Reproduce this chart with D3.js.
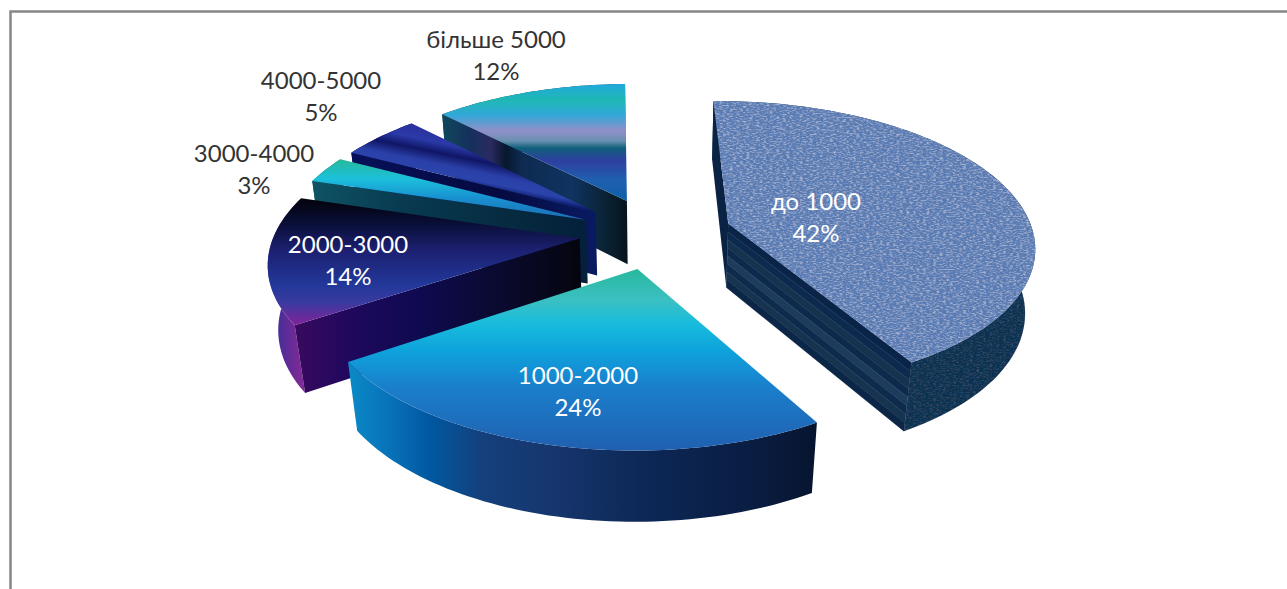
<!DOCTYPE html>
<html>
<head>
<meta charset="utf-8">
<script src="https://cdn.jsdelivr.net/npm/d3@7/dist/d3.min.js"></script>
<style>
  html, body { margin: 0; background: #fff; overflow: hidden; }
  text { font-family: Lato, "Open Sans", sans-serif; font-size: 24px; text-anchor: middle; }
</style>
</head>
<body>
<div class="pie-chart"></div>
<script>
const categories = ["до 1000", "1000-2000", "2000-3000", "3000-4000", "4000-5000", "більше 5000"];
const shares = [42, 24, 14, 3, 5, 12];

const width = 1287, height = 589;

// camera for the tilted pie: ground (u, v) with radius 1, z = 1 is the base of the solid
const cam = { x0: 655.5, y0: 233, a: 305, b: 143, s: 0.147, h: 66, k: 0.027 };
const explode = 0.25;
const firstSliceAngle = (-1.2 * Math.PI) / 180;

// where each text block sits, two lines centred on this point
const labelAt = [[816, 213], [578, 387], [348, 256], [254, 165], [321, 92], [496, 51]];
const labelColor = ["#fff", "#fff", "#fff", "#333", "#333", "#333"];

// back to front
const drawOrder = [5, 4, 3, 2, 0, 1];

const svg = d3
  .select(".pie-chart")
  .append("svg")
  .attr("width", width)
  .attr("height", height)
  .style("display", "block");

const defs = svg.append("defs");

function gradient(id, x1, y1, x2, y2, stops) {
  const g = defs
    .append("linearGradient")
    .attr("id", id)
    .attr("gradientUnits", "userSpaceOnUse")
    .attr("x1", x1)
    .attr("y1", y1)
    .attr("x2", x2)
    .attr("y2", y2);
  stops.forEach((s) => g.append("stop").attr("offset", s[0]).attr("stop-color", s[1]));
  return "url(#" + id + ")";
}

// woven cloth look for the largest slice
function cloth(id, lightOpacity, darkOpacity) {
  const f = defs
    .append("filter")
    .attr("id", id)
    .attr("x", 0)
    .attr("y", 0)
    .attr("width", 1)
    .attr("height", 1);
  f.append("feTurbulence")
    .attr("type", "fractalNoise")
    .attr("baseFrequency", "0.3 0.75")
    .attr("numOctaves", 2)
    .attr("seed", 4)
    .attr("result", "noise");
  f.append("feColorMatrix")
    .attr("in", "noise")
    .attr("type", "matrix")
    .attr("values", `0 0 0 0 1  0 0 0 0 1  0 0 0 0 1  ${3 * lightOpacity} 0 0 0 ${-1.35 * lightOpacity}`)
    .attr("result", "light");
  f.append("feColorMatrix")
    .attr("in", "noise")
    .attr("type", "matrix")
    .attr("values", `0 0 0 0 0.05  0 0 0 0 0.12  0 0 0 0 0.3  0 ${-3 * darkOpacity} 0 0 ${1.5 * darkOpacity}`)
    .attr("result", "dark");
  f.append("feComposite").attr("in", "light").attr("in2", "SourceAlpha").attr("operator", "in").attr("result", "lightIn");
  f.append("feComposite").attr("in", "dark").attr("in2", "SourceAlpha").attr("operator", "in").attr("result", "darkIn");
  const m = f.append("feMerge");
  m.append("feMergeNode").attr("in", "SourceGraphic");
  m.append("feMergeNode").attr("in", "darkIn");
  m.append("feMergeNode").attr("in", "lightIn");
}
cloth("cloth-top", 0.3, 0.3);
cloth("cloth-side", 0.03, 0.35);

// one style per slice: top face, outer wall, first radial wall, last radial wall
const faces = [
  {
    top: "#5a7db6",
    outer: "#10304f",
    start: "#0a2244",
    end: "#0c2a4e",
    topFilter: "url(#cloth-top)",
    outerFilter: "url(#cloth-side)",
    bands: ["#0a2448", "#0c2a4e", "#15334f", "#0d2a4c", "#1d3c5c", "#0e2b4e", "#163450", "#0b2647"],
  },
  {
    top: gradient("top1", 0, 267, 0, 450, [[0, "#26b89a"], [0.18, "#3bc0c2"], [0.31, "#18bcdc"], [0.46, "#0ea2dc"], [0.65, "#1a80cc"], [1, "#2060b0"]]),
    outer: gradient("outer1", 345, 0, 818, 0, [[0, "#0a8cc8"], [0.1, "#0870b8"], [0.18, "#0058a0"], [0.29, "#14407c"], [0.45, "#16356c"], [0.64, "#0c2756"], [0.88, "#0a1c40"], [1, "#06142e"]]),
    start: "#06142e",
    end: "#0a8cc8",
  },
  {
    top: gradient("top2", 0, 202, 0, 328, [[0, "#040410"], [0.18, "#0a0f3a"], [0.38, "#1c2070"], [0.66, "#22389a"], [0.8, "#3a3aa0"], [1, "#8a1f98"]]),
    outer: gradient("outer2", 265, 0, 300, 0, [[0, "#2a2f9a"], [1, "#7c2a96"]]),
    start: gradient("start2", 291, 0, 578, 0, [[0, "#3a0a5e"], [0.2, "#20085e"], [0.45, "#0e0a50"], [0.72, "#0a0a30"], [1, "#050510"]]),
    end: "#040410",
  },
  {
    top: gradient("top3", 0, 160, 0, 222, [[0, "#25b99a"], [0.3, "#1cc0dc"], [0.62, "#1890d0"], [1, "#1e6ab0"]]),
    outer: "#0f5566",
    start: gradient("start3", 306, 0, 583, 0, [[0, "#0f5566"], [0.35, "#083a50"], [0.75, "#062a40"], [1, "#04203a"]]),
    end: "#04203a",
  },
  {
    top: gradient("top4", 417, 125, 400, 208, [[0, "#2b2f9c"], [0.15, "#2a3aa8"], [0.27, "#101666"], [0.4, "#2a40a8"], [0.5, "#2a44ac"], [0.58, "#0c1868"], [0.7, "#2a4fa8"], [1, "#1f4aa0"]]),
    outer: "#060a48",
    start: gradient("start4", 345, 0, 594, 0, [[0, "#08105a"], [0.6, "#050a40"], [1, "#0a1a60"]]),
    end: "#0a1a60",
  },
  {
    top: gradient("top5", 0, 84, 0, 198, [[0, "#20a8dc"], [0.14, "#1fb8b4"], [0.27, "#30a8d8"], [0.41, "#9090c8"], [0.5, "#6a90b0"], [0.56, "#10607a"], [0.67, "#2e3f9f"], [0.84, "#1f5fb0"], [1, "#0f60a8"]]),
    outer: "#0f4a5c",
    start: gradient("start5", 440, 0, 628, 0, [[0, "#0f4a5c"], [0.16, "#15305c"], [0.27, "#2a2a60"], [0.35, "#07182c"], [0.43, "#0e2a50"], [0.7, "#0e3460"], [0.9, "#0a2030"], [1, "#06141e"]]),
    end: "#06141e",
  },
];

// ground point to screen, z is 0 on the top face and 1 on the base
function project(u, v, z) {
  const w = 1 - cam.s * v + cam.k * z;
  return [cam.x0 + (cam.a * u) / w, cam.y0 + (cam.b * v + cam.h * z) / w];
}

const pie = d3
  .pie()
  .sort(null)
  .startAngle(firstSliceAngle)
  .endAngle(firstSliceAngle + 2 * Math.PI)
  .value((d) => d);
const slices = pie(shares);
const line = d3.line().curve(d3.curveLinearClosed);

function ground(slice, angle, r) {
  const mid = (slice.startAngle + slice.endAngle) / 2;
  return [
    explode * Math.sin(mid) + r * Math.sin(angle),
    -explode * Math.cos(mid) - r * Math.cos(angle),
  ];
}

function rim(slice, z) {
  const n = Math.ceil((slice.endAngle - slice.startAngle) * 40);
  return d3.range(n + 1).map((i) => {
    const angle = slice.startAngle + ((slice.endAngle - slice.startAngle) * i) / n;
    const g = ground(slice, angle, 1);
    return project(g[0], g[1], z);
  });
}

function radialWall(slice, angle, z0, z1) {
  const apex = ground(slice, angle, 0);
  const edge = ground(slice, angle, 1);
  return [
    project(apex[0], apex[1], z0),
    project(edge[0], edge[1], z0),
    project(edge[0], edge[1], z1),
    project(apex[0], apex[1], z1),
  ];
}

const chart = svg.append("g");

// frame of the chart area, open at the right and the bottom
svg
  .append("path")
  .attr("d", `M10.5,${height}V11.5H${width}`)
  .attr("fill", "none")
  .attr("stroke", "#868686")
  .attr("stroke-width", 2.5);

drawOrder.forEach((i) => {
  const slice = slices[i];
  const face = faces[i];
  const g = chart.append("g");

  const outer = rim(slice, 0).concat(rim(slice, 1).reverse());
  g.append("path")
    .attr("d", line(outer))
    .attr("fill", face.outer)
    .attr("filter", face.outerFilter || null);

  // a radial wall only shows when it turns towards the camera
  const startQuad = radialWall(slice, slice.startAngle, 0, 1);
  if (d3.polygonArea(startQuad) > 0) {
    g.append("path").attr("d", line(startQuad)).attr("fill", face.start);
  }

  const endQuad = radialWall(slice, slice.endAngle, 0, 1);
  if (d3.polygonArea(endQuad) < 0) {
    if (face.bands) {
      face.bands.forEach((color, b) => {
        const n = face.bands.length;
        g.append("path")
          .attr("d", line(radialWall(slice, slice.endAngle, b / n, (b + 1) / n)))
          .attr("fill", color)
          .attr("stroke", color)
          .attr("stroke-width", 0.4);
      });
    } else {
      g.append("path").attr("d", line(endQuad)).attr("fill", face.end);
    }
  }

  const apex = ground(slice, slice.startAngle, 0);
  g.append("path")
    .attr("d", line([project(apex[0], apex[1], 0)].concat(rim(slice, 0))))
    .attr("fill", face.top)
    .attr("filter", face.topFilter || null);
});

const labels = svg
  .append("g")
  .selectAll("text")
  .data(categories)
  .enter()
  .append("text")
  .attr("x", (d, i) => labelAt[i][0])
  .attr("y", (d, i) => labelAt[i][1])
  .attr("fill", (d, i) => labelColor[i]);

labels.append("tspan").attr("x", (d, i) => labelAt[i][0]).attr("dy", "-0.12em").text((d) => d);
labels
  .append("tspan")
  .attr("x", (d, i) => labelAt[i][0])
  .attr("dy", "1.33em")
  .text((d, i) => shares[i] + "%");
</script>
</body>
</html>
